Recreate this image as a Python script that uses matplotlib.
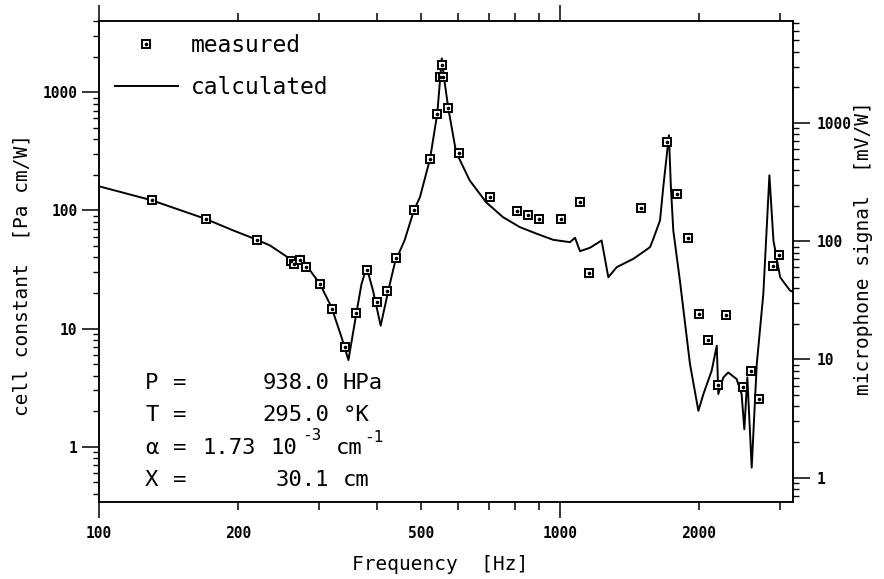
import numpy as np
import matplotlib.pyplot as plt
from matplotlib.ticker import FixedLocator, FixedFormatter, FuncFormatter, LogLocator, NullFormatter

plt.rcParams['font.family'] = ['DejaVu Sans Mono', 'DejaVu Sans']

# measured points (frequency in Hz, cell constant in Pa cm/W)
f_meas = [130.5, 170.6, 220, 260.5, 265, 273, 281, 301.6, 320.2, 341.7, 361.4, 380.6,
          401.6, 420.7, 440.7, 482, 522.6, 541.7, 549, 558, 553.5, 572.5, 604, 705,
          805, 851, 900, 1003, 1105, 1158, 1497, 1703, 1797, 1892, 2002, 2098, 2205,
          2295, 2498, 2600, 2702, 2893, 2991]
c_meas = [121.6, 84.4, 56.4, 37.7, 35.3, 38.2, 33.1, 23.7, 14.8, 6.95, 13.5, 31.4,
          16.9, 21.0, 39.7, 100, 274, 659, 1348, 1348, 1694, 742, 306, 131,
          98, 91, 85, 85, 118, 29.4, 105, 379, 137, 58.7, 13.3, 8.0, 3.35,
          13.1, 3.18, 4.4, 2.55, 34.2, 41.6]

# calculated curve
f_calc = [100, 130, 170, 195, 220, 235, 259.6, 265, 273.5, 282, 301.6, 319.4, 336,
          347.6, 361.4, 371, 380.6, 393, 408.3, 424.2, 438.6, 460, 482, 497, 522.6,
          541.7, 550, 554, 560, 572.5, 595, 636.6, 691, 752, 818, 890, 967, 1051,
          1078, 1105, 1161, 1231, 1273, 1327, 1443, 1568, 1594, 1648, 1675, 1723,
          1740, 1761, 1820, 1914, 1996, 2047, 2133, 2188, 2205, 2261, 2317, 2416,
          2477, 2511, 2549, 2605, 2672, 2761, 2846, 2904, 3003, 3155, 3200]
c_calc = [160, 122, 85, 68, 56.5, 50.5, 39, 36.5, 41.6, 34.2, 23.8, 15.2, 8.4,
          5.43, 13.3, 23.8, 33.1, 21, 10.6, 21, 36.5, 55.7, 100, 130, 274,
          659, 1348, 1930, 1348, 727, 312, 180, 117.5, 87.8, 72.3, 63.5, 56.4, 53.9,
          58.7, 45.2, 48.3, 55.7, 27.2, 33.1, 39, 48.9, 57.5, 82.3, 157.6, 432,
          157.6, 67.7, 25.5, 5.02, 2.02, 2.8, 4.41, 7.18, 2.8, 3.87, 4.26, 3.75,
          2.8, 1.41, 3.87, 0.668, 5.02, 19.7, 198, 55.7, 27.2, 21, 20.5]

x_major = [100, 1000]
x_minor = [200, 300, 400, 500, 600, 700, 800, 900, 2000, 3000]
x_minor_labels = [200, 500, 2000]
ylim_left = (0.342, 4000)
mic_factor = 1.82  # microphone signal per cell constant

W, H = 884, 579
fig = plt.figure(figsize=(W / 100, H / 100), dpi=100)
ax = fig.add_axes([99 / W, 1 - 502 / H, (793 - 99) / W, (502 - 21) / H])

sq, = ax.plot(f_meas, c_meas, ls='none', marker='s', ms=6.2, mfc='white', mec='black', mew=1.4, zorder=3)
dot, = ax.plot(f_meas, c_meas, ls='none', marker='o', ms=1.6, color='black', zorder=4)
line, = ax.plot(f_calc, c_calc, color='black', lw=1.4, zorder=2)

ax.set_xscale('log')
ax.set_yscale('log')
ax.set_xlim(100, 3202)
ax.set_ylim(*ylim_left)

ax.xaxis.set_major_locator(FixedLocator(x_major))
ax.xaxis.set_major_formatter(FixedFormatter([str(v) for v in x_major]))
ax.xaxis.set_minor_locator(FixedLocator(x_minor))
ax.xaxis.set_minor_formatter(FuncFormatter(lambda v, p: f"{v:.0f}" if round(v) in x_minor_labels else ""))

ax.yaxis.set_major_locator(LogLocator(base=10, numticks=10))
ax.yaxis.set_minor_locator(LogLocator(base=10, subs=np.arange(2, 10), numticks=20))
ax.yaxis.set_minor_formatter(NullFormatter())
ax.yaxis.set_major_formatter(FuncFormatter(lambda v, p: f"{v:g}"))

ax.tick_params(axis='x', which='major', direction='out', length=11.5, width=1.1, pad=5.8,
               top=True, labeltop=False)
ax.tick_params(axis='x', which='minor', direction='out', length=5.5, width=1.1, pad=11.5,
               top=True, labeltop=False)
ax.tick_params(axis='y', which='major', direction='out', length=12, width=1.1, pad=3.5)
ax.tick_params(axis='y', which='minor', direction='out', length=4.5, width=1.0)
for lab in ax.get_xticklabels(which='both') + ax.get_yticklabels():
    lab.set_fontsize(10.5)
    lab.set_fontweight('bold')

ax2 = ax.twinx()
ax2.set_yscale('log')
ax2.set_ylim(ylim_left[0] * mic_factor, ylim_left[1] * mic_factor)
ax2.yaxis.set_major_locator(LogLocator(base=10, numticks=10))
ax2.yaxis.set_minor_locator(LogLocator(base=10, subs=np.arange(2, 10), numticks=20))
ax2.yaxis.set_minor_formatter(NullFormatter())
ax2.yaxis.set_major_formatter(FuncFormatter(lambda v, p: f"{v:g}"))
ax2.tick_params(axis='y', which='major', direction='out', length=12, width=1.1, pad=5)
ax2.tick_params(axis='y', which='minor', direction='out', length=4.5, width=1.0)
for lab in ax2.get_yticklabels():
    lab.set_fontsize(10.5)
    lab.set_fontweight('bold')

for a in (ax, ax2):
    for s in a.spines.values():
        s.set_linewidth(1.1)

ax.set_xlabel('Frequency  [Hz]', fontsize=14)
ax.xaxis.set_label_coords(0.491, -0.110)
ax.set_ylabel('cell constant  [Pa cm/W]', fontsize=14)
ax.yaxis.set_label_coords(-0.097, 0.472)
ax2.set_ylabel('microphone signal  [mV/W]', fontsize=14, rotation=90)
ax2.yaxis.set_label_coords(1.088, 0.528)

ax.legend([(sq, dot), line], ['measured', 'calculated'], loc='upper left',
          bbox_to_anchor=(0.023, 0.972), frameon=False, fontsize=16.5, borderpad=0,
          borderaxespad=0, handlelength=2.75, handletextpad=0.55, labelspacing=0.83)

def put(x, y, s, size=16, ha='left'):
    fig.text(x / W, 1 - y / H, s, fontsize=size, ha=ha, va='center')

put(145, 383, 'P')
put(173, 383, '=')
put(329, 383, '938.0', ha='right')
put(343, 383, 'HPa')
put(145, 415, 'T')
put(173, 415, '=')
put(329, 415, '295.0', ha='right')
put(343, 415, '°K')
put(145, 448, 'α')
put(173, 448, '=')
put(202, 448, '1.73')
put(270, 448, '10')
put(302, 436, '-3', size=11.5)
put(336, 448, 'cm')
put(364, 438, '-1', size=11.5)
put(145, 480, 'X')
put(173, 480, '=')
put(329, 480, '30.1', ha='right')
put(343, 480, 'cm')

fig.savefig('out.png', dpi=100)
